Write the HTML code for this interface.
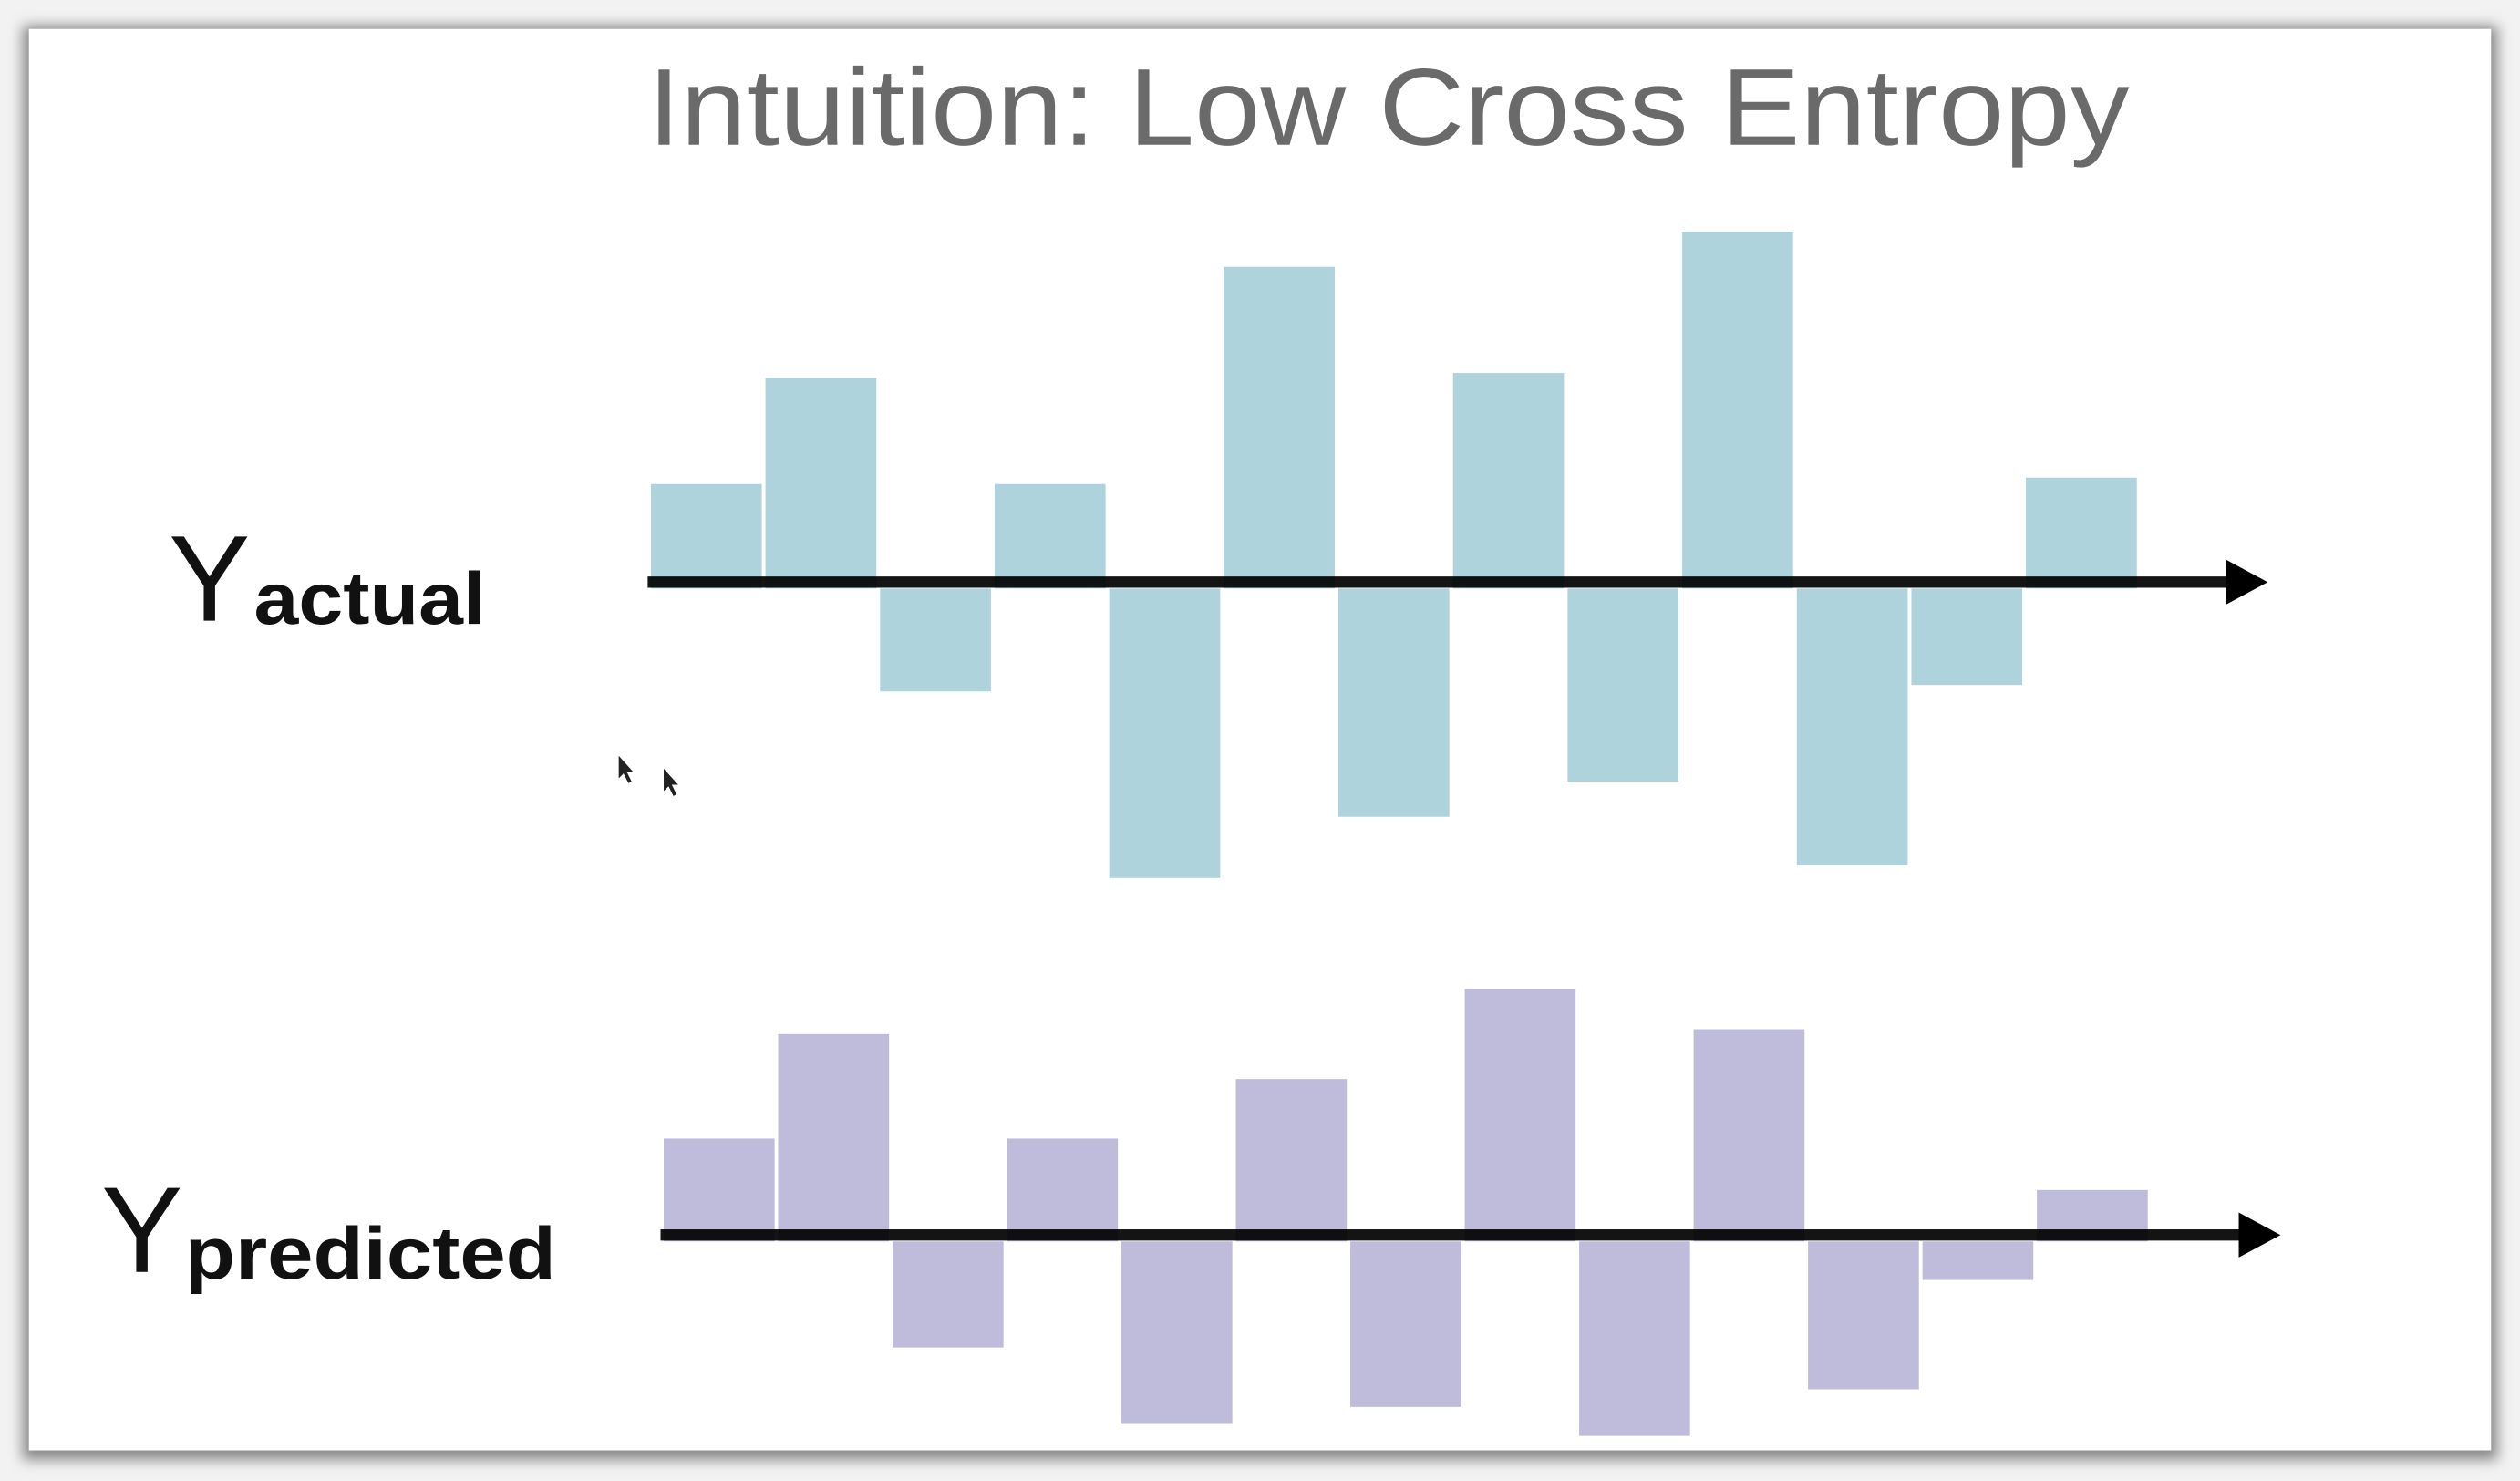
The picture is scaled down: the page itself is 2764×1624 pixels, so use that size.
<!DOCTYPE html>
<html><head><meta charset="utf-8"><style>
html,body{margin:0;padding:0;background:#f2f2f2;}
svg{display:block;}
</style></head><body>
<svg width="2764" height="1624" viewBox="0 0 1568 921" preserveAspectRatio="none" xmlns="http://www.w3.org/2000/svg">
<defs>
<filter id="sh" x="-5%" y="-5%" width="110%" height="110%"><feGaussianBlur stdDeviation="4"/></filter>
</defs>
<rect x="14" y="16" width="1540" height="892" fill="#8a8a8a" filter="url(#sh)"/>
<rect x="18" y="18" width="1532" height="884" fill="#ffffff"/>
<text x="403" y="90" font-family="Liberation Sans, sans-serif" font-size="68" fill="#6a6a6a" textLength="922" lengthAdjust="spacingAndGlyphs">Intuition: Low Cross Entropy</text>
<g font-family="Liberation Sans, sans-serif" fill="#111">
<text x="105" y="386" font-size="76">Y</text>
<text x="158" y="388" font-size="46" font-weight="bold" textLength="144" lengthAdjust="spacingAndGlyphs">actual</text>
</g>
<g font-family="Liberation Sans, sans-serif" fill="#111">
<text x="63" y="791" font-size="76">Y</text>
<text x="115" y="795" font-size="46" font-weight="bold" textLength="231" lengthAdjust="spacingAndGlyphs">predicted</text>
</g>
<g id="chartA"></g>
<g id="chartB"></g>
<polygon points="385,470 385,484 388,481 391,487 393,486 390,480 394,480" fill="#222"/>
<polygon points="413,478 413,492 416,489 419,495 421,494 418,488 422,488" fill="#222"/>
</svg>
<script>
const categories = [1,2,3,4,5,6,7,8,9,10,11,12,13];
const actualValues = [61,127,-68,61,-184,196,-146,130,-124,218,-176,-64,65];
const predictedValues = [60,125,-70,60,-117,97,-107,153,-125,128,-96,-28,28];

const NS = 'http://www.w3.org/2000/svg';
function drawChart(gId, values, color, x0, pitch, barW, axisY, axisEnd, arrowTip, name) {
  const g = document.getElementById(gId);
  const xScale = i => x0 + i * pitch;
  const yScale = v => axisY - v;
  categories.forEach((c, i) => {
    const v = values[i];
    const r = document.createElementNS(NS, 'rect');
    
    
    const top = v >= 0 ? yScale(v) : axisY + 4;
    const h = v >= 0 ? v + 4 : -v - 4;
    r.setAttribute('x', xScale(i));
    r.setAttribute('y', top);
    r.setAttribute('width', barW);
    r.setAttribute('height', Math.max(h, 0));
    r.setAttribute('fill', color);
    g.appendChild(r);
  });
  const line = document.createElementNS(NS, 'rect');
  
  
  line.setAttribute('x', x0 - 2);
  line.setAttribute('y', axisY - 3.5);
  line.setAttribute('width', axisEnd - x0 + 2);
  line.setAttribute('height', 7);
  line.setAttribute('fill', '#000');
  line.setAttribute('opacity', '0.92');
  g.appendChild(line);
  const arr = document.createElementNS(NS, 'polygon');
  
  
  arr.setAttribute('points', (arrowTip - 26) + ',' + (axisY - 14) + ' ' + arrowTip + ',' + axisY + ' ' + (arrowTip - 26) + ',' + (axisY + 14));
  arr.setAttribute('fill', '#000');
  g.appendChild(arr);
}
drawChart('chartA', actualValues, '#aed3dc', 405, 71.3, 69, 362, 1388, 1411, 'actual');
drawChart('chartB', predictedValues, '#bfbbdb', 413, 71.2, 69, 768, 1396, 1419, 'predicted');
</script>
</body></html>
